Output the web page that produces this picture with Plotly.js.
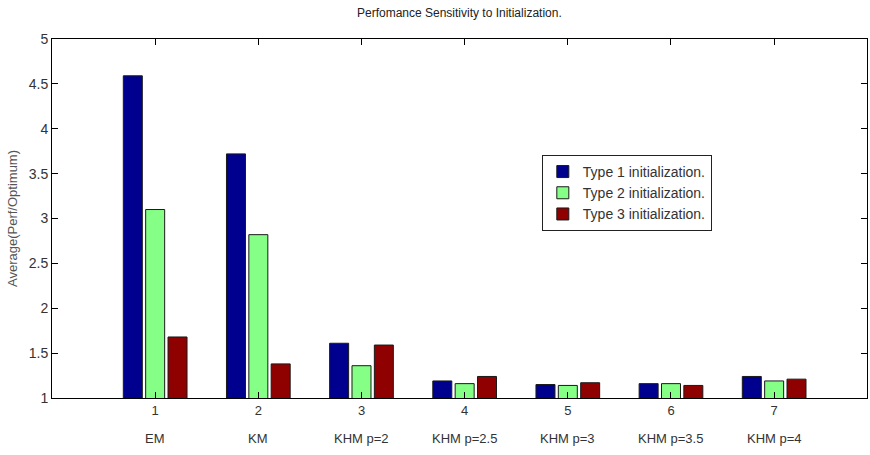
<!DOCTYPE html>
<html>
<head>
<meta charset="utf-8">
<script src="https://cdn.plot.ly/plotly-3.0.1.min.js"></script>
<style>html,body{margin:0;padding:0;background:#fff;}#chart{width:870px;height:455px;}</style>
</head>
<body>
<div id="chart"></div>
<script>
const groupIndex = [1, 2, 3, 4, 5, 6, 7];
const groupNames = ["EM", "KM", "KHM p=2", "KHM p=2.5", "KHM p=3", "KHM p=3.5", "KHM p=4"];
const seriesNames = ["Type 1 initialization.", "Type 2 initialization.", "Type 3 initialization."];
const type1 = [4.59, 3.72, 1.61, 1.19, 1.15, 1.16, 1.24];
const type2 = [3.10, 2.82, 1.36, 1.16, 1.14, 1.16, 1.19];
const type3 = [1.68, 1.38, 1.59, 1.24, 1.17, 1.14, 1.21];
const yTicks = [1, 1.5, 2, 2.5, 3, 3.5, 4, 4.5, 5];

const colors = ["#00008f", "#85ff85", "#8f0000"];
const font = "Liberation Sans Narrow, Arial Narrow, Liberation Sans, Arial, sans-serif";
const allSeries = [type1, type2, type3];

const traces = allSeries.map((vals, i) => ({
  type: "bar",
  x: groupIndex,
  y: vals,
  name: seriesNames[i],
  marker: {color: colors[i], line: {color: "#1a1a1a", width: 1}}
}));

const annotations = groupIndex.map((g, i) => ({
  x: g, xref: "x", y: -0.085, yref: "paper", yanchor: "top",
  text: groupNames[i], showarrow: false,
  font: {family: font, size: 13, color: "#333"}
}));

const layout = {
  width: 870, height: 455,
  margin: {l: 52, r: 3, t: 39, b: 57},
  paper_bgcolor: "#fff", plot_bgcolor: "#fff",
  barmode: "group", bargap: 0.35, bargroupgap: 0.15,
  title: {text: "Perfomance Sensitivity to Initialization.", x: 0.528, xanchor: "center", y: 0.972, yanchor: "middle",
          font: {family: font, size: 12, color: "#222"}},
  xaxis: {
    range: [0, 7.9], tickvals: groupIndex, ticktext: groupIndex.map(String),
    ticks: "inside", ticklen: 6, tickcolor: "#000", showline: true, linecolor: "#000", linewidth: 1,
    mirror: "allticks", showgrid: false, zeroline: false,
    tickfont: {family: font, size: 13, color: "#333"}
  },
  yaxis: {
    range: [1, 5], tickvals: yTicks, ticktext: yTicks.map(String),
    ticks: "inside", ticklen: 6, tickcolor: "#000", showline: true, linecolor: "#000", linewidth: 1,
    mirror: "allticks", showgrid: false, zeroline: false,
    tickfont: {family: font, size: 14, color: "#333"},
    title: {text: "Average(Perf/Optimum)", standoff: 8, font: {family: font, size: 13, color: "#555"}}
  },
  legend: {
    x: 0.601, xanchor: "left", y: 0.677, yanchor: "top",
    bgcolor: "#fff", bordercolor: "#222", borderwidth: 1,
    font: {family: font, size: 14, color: "#333"}, tracegroupgap: 0, itemwidth: 30
  },
  annotations: annotations,
  showlegend: true
};

Plotly.newPlot("chart", traces, layout, {displayModeBar: false, staticPlot: true});
</script>
</body>
</html>
